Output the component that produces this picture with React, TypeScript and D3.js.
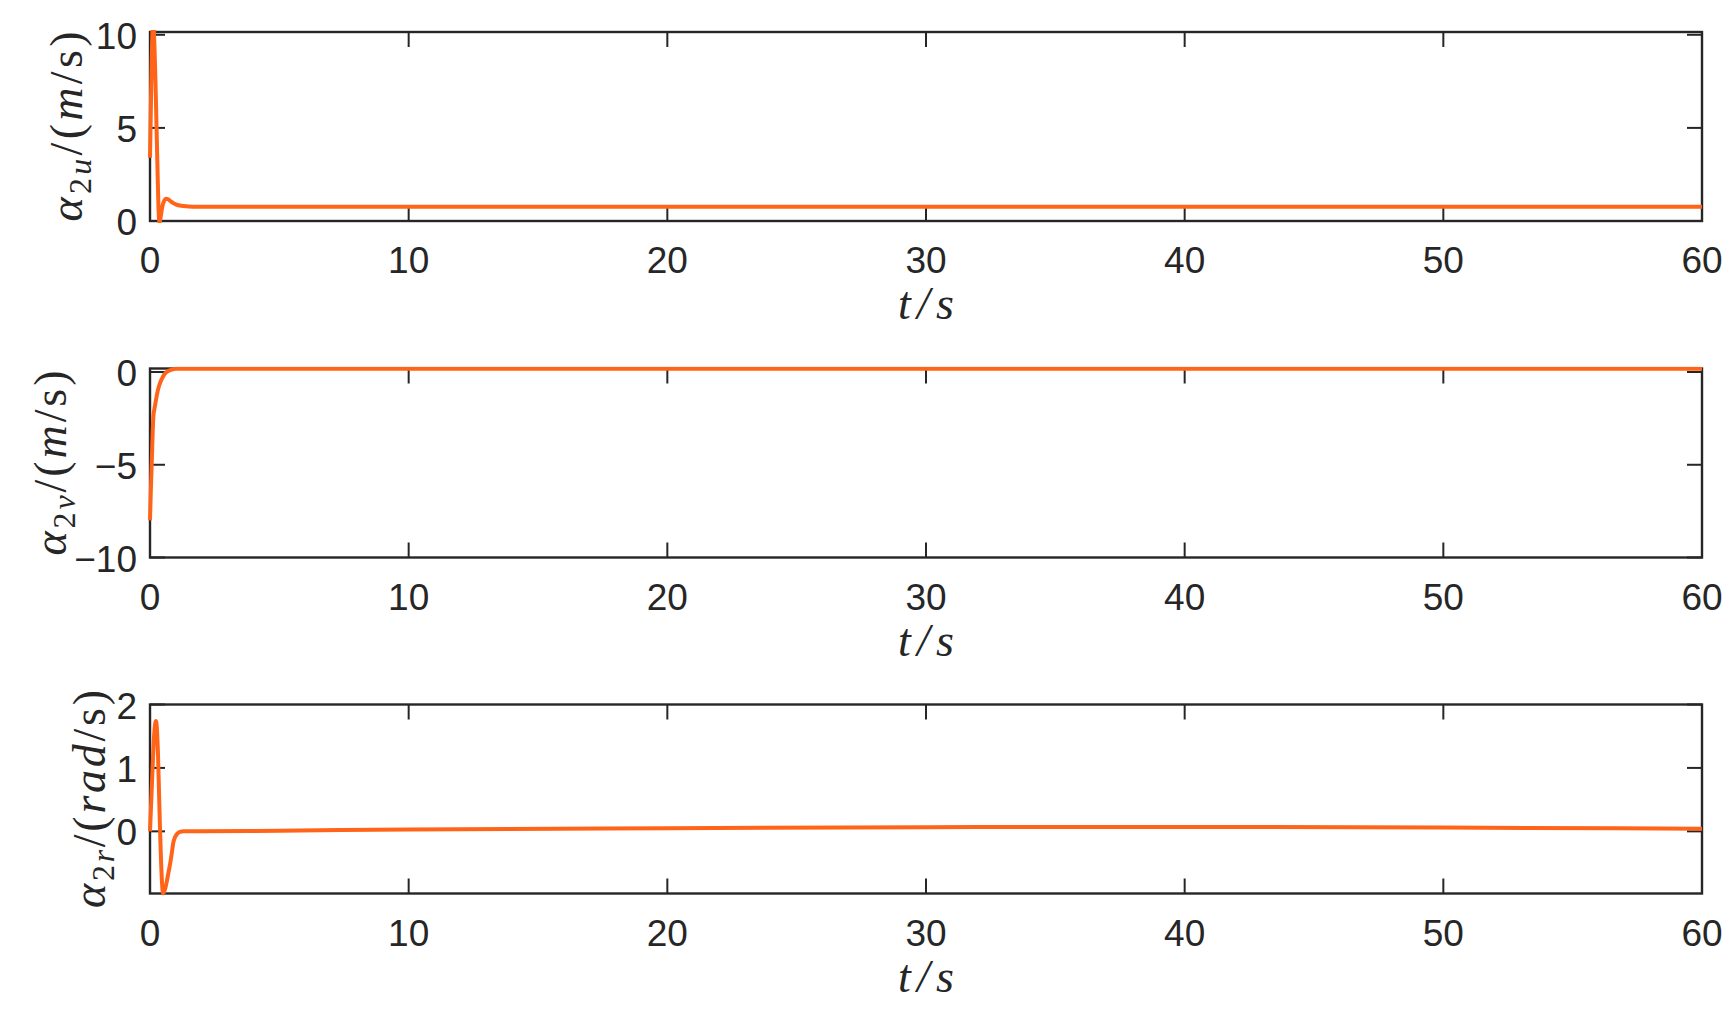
import React from 'react';
import * as d3 from 'd3';

// time axis ticks shared by all three panels
const timeTicks = [0, 10, 20, 30, 40, 50, 60];

// panel 1: alpha_2u (m/s)
const tU = [0, 0.03, 0.06, 0.1, 0.13, 0.17, 0.21, 0.25, 0.29, 0.33, 0.37, 0.42, 0.48, 0.55, 0.62, 0.7, 0.8, 0.9, 1.0, 1.15, 1.3, 1.5, 1.8, 2.2, 3, 5, 10, 20, 30, 40, 50, 60];
const alphaU = [3.4, 5.8, 8.2, 10.3, 10.6, 9.5, 7.6, 5.2, 2.8, 0.6, -0.1, 0.3, 0.8, 1.1, 1.2, 1.17, 1.06, 0.96, 0.89, 0.83, 0.8, 0.78, 0.77, 0.77, 0.77, 0.77, 0.77, 0.77, 0.77, 0.77, 0.77, 0.77];
const ticksU = [0, 5, 10];

// panel 2: alpha_2v (m/s)
const tV = [0, 0.03, 0.07, 0.1, 0.13, 0.17, 0.22, 0.3, 0.4, 0.5, 0.6, 0.7, 0.85, 1.0, 1.3, 2, 5, 10, 20, 30, 40, 50, 60];
const alphaV = [-8, -6.5, -4.8, -3.4, -2.4, -2.0, -1.6, -1.0, -0.55, -0.25, -0.05, 0.05, 0.13, 0.17, 0.18, 0.18, 0.18, 0.18, 0.18, 0.18, 0.18, 0.18, 0.18];
const ticksV = [-10, -5, 0];

// panel 3: alpha_2r (rad/s)
const tR = [0, 0.05, 0.1, 0.15, 0.2, 0.23, 0.27, 0.31, 0.35, 0.39, 0.43, 0.47, 0.51, 0.6, 0.7, 0.77, 0.85, 0.9, 0.97, 1.05, 1.16, 1.3, 2, 5, 10, 20, 30, 40, 50, 60];
const alphaR = [0, 0.5, 1.0, 1.45, 1.7, 1.74, 1.6, 1.2, 0.6, 0.0, -0.5, -0.85, -0.98, -0.88, -0.68, -0.53, -0.32, -0.18, -0.09, -0.04, -0.01, 0, 0, 0.01, 0.03, 0.05, 0.065, 0.07, 0.06, 0.04];
const ticksR = [0, 1, 2];

const AXIS = '#262626';
const LINE = '#ff6418';
const SANS = '"Liberation Sans", Arial, Helvetica, sans-serif';
const SERIF = '"Liberation Serif", "Times New Roman", serif';

const fmt = (v: number) => (v < 0 ? '\u2212' + Math.abs(v) : String(v));

const panels = [
  { key: 'u', t: tU, v: alphaU, domain: [0, 10.15], ticks: ticksU, top: 32, sub: '2u', unit: ['m', 's'], labelX: 82, labelLen: 190 },
  { key: 'v', t: tV, v: alphaV, domain: [-10, 0.19], ticks: ticksV, top: 368.5, sub: '2v', unit: ['m', 's'], labelX: 66, labelLen: 185 },
  { key: 'r', t: tR, v: alphaR, domain: [-0.98, 2], ticks: ticksR, top: 704.5, sub: '2r', unit: ['rad', 's'], labelX: 105, labelLen: 218 },
];

export default function App() {
  const width = 1735;
  const height = 1023;
  const left = 150;
  const right = 1702;
  const ph = 189;
  const tickLen = 15;

  const x = d3.scaleLinear().domain([0, 60]).range([left, right]);

  return (
    <svg width={width} height={height} style={{ position: 'absolute', left: 0, top: 0, background: '#fff' }}>
      <defs>
        {panels.map(p => (
          <clipPath id={`clip-${p.key}`} key={p.key}>
            <rect x={left - 3} y={p.top - 2} width={right - left + 6} height={ph + 4} />
          </clipPath>
        ))}
      </defs>
      {panels.map(p => {
        const bottom = p.top + ph;
        const y = d3.scaleLinear().domain(p.domain).range([bottom, p.top]);
        const line = d3.line<number>()
          .x((_, i) => x(p.t[i]))
          .y(d => y(d))
          .curve(d3.curveMonotoneX);
        const cy = (p.top + bottom) / 2;
        return (
          <g key={p.key}>
            {/* x ticks, bottom and top */}
            {timeTicks.map(tk => (
              <g key={tk}>
                <line x1={x(tk)} x2={x(tk)} y1={bottom} y2={bottom - tickLen} stroke={AXIS} strokeWidth={2} />
                <line x1={x(tk)} x2={x(tk)} y1={p.top} y2={p.top + tickLen} stroke={AXIS} strokeWidth={2} />
                <text x={x(tk)} y={bottom + 52} textAnchor="middle" fontFamily={SANS} fontSize={37} fill={AXIS}>{tk}</text>
              </g>
            ))}
            {/* y ticks, left and right */}
            {p.ticks.map(tk => (
              <g key={tk}>
                <line x1={left} x2={left + tickLen} y1={y(tk)} y2={y(tk)} stroke={AXIS} strokeWidth={2} />
                <line x1={right} x2={right - tickLen} y1={y(tk)} y2={y(tk)} stroke={AXIS} strokeWidth={2} />
                <text x={137} y={y(tk) + 14} textAnchor="end" fontFamily={SANS} fontSize={37} fill={AXIS}>{fmt(tk)}</text>
              </g>
            ))}
            <rect x={left} y={p.top} width={right - left} height={ph} fill="none" stroke={AXIS} strokeWidth={2.4} />
            <path d={line(p.v) || ''} fill="none" stroke={LINE} strokeWidth={4} strokeLinejoin="round" clipPath={`url(#clip-${p.key})`} />
            {/* x label */}
            <text x={x(30)} y={bottom + 98} textAnchor="middle" fontFamily={SERIF} fontStyle="italic" fontSize={46} fill={AXIS} textLength={56} lengthAdjust="spacing">t/s</text>
            {/* y label */}
            <text transform={`translate(${p.labelX},${cy}) rotate(-90)`} textAnchor="middle" fontFamily={SERIF} fontSize={46} fill={AXIS} textLength={p.labelLen} lengthAdjust="spacing">
              <tspan fontStyle="italic">α</tspan>
              <tspan fontSize={32} dy={9}>2</tspan>
              <tspan fontSize={32} fontStyle="italic">{p.sub.slice(1)}</tspan>
              <tspan dy={-9}>/(</tspan>
              <tspan fontStyle="italic">{p.unit[0]}</tspan>
              <tspan>/{p.unit[1]})</tspan>
            </text>
          </g>
        );
      })}
    </svg>
  );
}
